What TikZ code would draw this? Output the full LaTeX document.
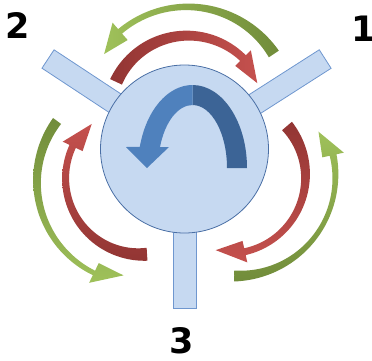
\documentclass[tikz,border=0pt]{standalone}
\usepackage{fontspec}
\setmainfont{DejaVu Sans}
\definecolor{stubfill}{HTML}{C6D9F1}
\definecolor{stubline}{HTML}{6F97CF}
\definecolor{hubline}{HTML}{4A6FA5}
\definecolor{redL}{HTML}{C5514E}
\definecolor{redD}{HTML}{923533}
\definecolor{grnL}{HTML}{9FC15A}
\definecolor{grnD}{HTML}{718C3A}
\definecolor{bluL}{HTML}{4F81BD}
\definecolor{bluD}{HTML}{3C6496}
\pgfkeys{/carr/.cd,
  cx/.store in=\ccx, cy/.store in=\ccy,
  ta/.store in=\cta, ha/.store in=\cha, pa/.store in=\cpa,
  tr/.store in=\ctr, hr/.store in=\chr, pr/.store in=\cpr,
  tw/.store in=\ctw, mw/.store in=\cmw, nw/.store in=\cnw, hw/.store in=\chw}
\newcommand\carrow[2]{%
  \pgfkeys{/carr/.cd,#2}%
  \shade[#1]
    plot[domain=\cta:\cha,samples=50,variable=\u]
      ({\ccx+cos(\u)*(crr(\u)+cww(\u))},{\ccy+sin(\u)*(crr(\u)+cww(\u))})
    -- ({\ccx+cos(\cha)*(\chr+\chw)},{\ccy+sin(\cha)*(\chr+\chw)})
    -- ({\ccx+cos(\cpa)*\cpr},{\ccy+sin(\cpa)*\cpr})
    -- ({\ccx+cos(\cha)*(\chr-\chw)},{\ccy+sin(\cha)*(\chr-\chw)})
    -- plot[domain=\cha:\cta,samples=50,variable=\u]
      ({\ccx+cos(\u)*(crr(\u)-cww(\u))},{\ccy+sin(\u)*(crr(\u)-cww(\u))})
    -- cycle;}
\begin{document}
\begin{tikzpicture}[x=1pt,y=1pt,
  declare function={
    cs(\v)=(\v-(\cta))/((\cha)-(\cta));
    crr(\v)=\ctr+cs(\v)*(\chr-\ctr);
    cww(\v)=\ctw*(1-cs(\v))*(1-2*cs(\v))+4*\cmw*cs(\v)*(1-cs(\v))+\cnw*cs(\v)*(2*cs(\v)-1);
  },
  stub/.style={fill=stubfill,draw=stubline,line width=0.8pt},
  hub/.style={fill=stubfill,draw=hubline,line width=0.8pt},
  lab/.style={font=\fontsize{35}{35}\selectfont\bfseries,inner sep=0pt}]
\useasboundingbox (0,0) rectangle (372,360);
\coordinate (C) at (184.5,211);
% ports
\begin{scope}[shift={(C)},rotate=146.6]
  \draw[stub] (0,-11) rectangle (163.5,11);
\end{scope}
\begin{scope}[shift={(C)},rotate=32.6]
  \draw[stub] (0,-11) rectangle (167,11);
\end{scope}
\begin{scope}[shift={(C)},rotate=270]
  \draw[stub] (0,-11.5) rectangle (159,11.5);
\end{scope}
\draw[hub] (C) circle (84);
% central U-turn arrow
\fill[bluD] (247,192) arc[start angle=0,end angle=90,x radius=54.5,y radius=83]
  -- (192.5,255) arc[start angle=90,end angle=0,x radius=34.5,y radius=63] -- cycle;
\fill[bluL] (192.5,275) arc[start angle=90,end angle=165.3,x radius=54.5,y radius=83]
  -- (126,213) -- (147,192) -- (169,213) -- (160,213)
  arc[start angle=160.5,end angle=90,x radius=34.5,y radius=63] -- cycle;
% top pair
\carrow{left color=redD,right color=redL}{cx=186.5,cy=245.3,ta=155,ha=45,pa=24,tr=77.7,hr=80,pr=77.5,tw=6.5,mw=5.2,nw=4,hw=11}
\carrow{left color=grnL,right color=grnD}{cx=189,cy=249.4,ta=33.7,ha=131,pa=146.3,tr=102,hr=105,pr=102,tw=6,mw=3.5,nw=3,hw=11.5}
% left pair
\carrow{top color=redL,bottom color=redD}{cx=142.2,cy=180.6,ta=273.7,ha=154.6,pa=132.3,tr=75,hr=77,pr=75,tw=6.5,mw=4,nw=3.5,hw=11}
\carrow{top color=grnD,bottom color=grnL}{cx=138.7,cy=178.4,ta=143.4,ha=243.9,pa=260.8,tr=101.7,hr=101.7,pr=95,tw=5,mw=3.5,nw=2.5,hw=11}
% right pair
\carrow{top color=redD,bottom color=redL}{cx=228.2,cy=183.8,ta=40.5,ha=-77.5,pa=-99.6,tr=77.3,hr=77.3,pr=75,tw=6.5,mw=3.8,nw=3.5,hw=11}
\carrow{top color=grnL,bottom color=grnD}{cx=235.8,cy=183.6,ta=-90.9,ha=12.4,pa=28.4,tr=99.6,hr=99.6,pr=94,tw=5.5,mw=2.6,nw=3.5,hw=11}
% labels
\node[lab] (l2) at (17.5,334.5) {2};
\node[lab,anchor=west] (l1) at (351,331) {1};
\node[lab] (l3) at (181.5,19) {3};
\end{tikzpicture}
\end{document}
